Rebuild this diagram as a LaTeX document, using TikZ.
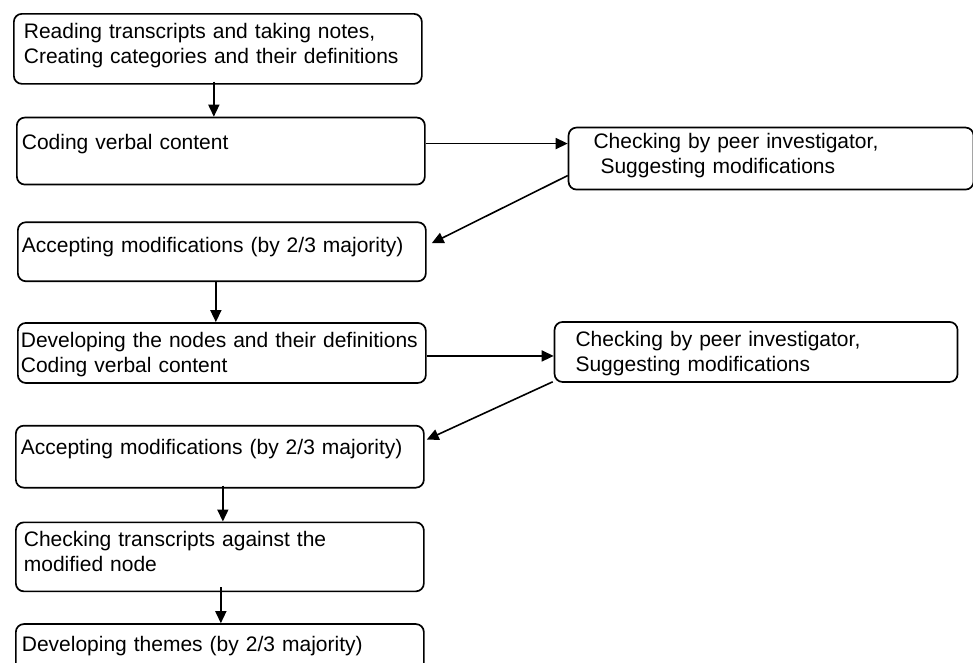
\documentclass[tikz,border=0pt]{standalone}
\usepackage{fontspec}
\setmainfont{Liberation Sans}
\usepackage{tikz}
\usetikzlibrary{positioning,arrows.meta}
\def\BoxFont{\fontsize{21}{25}\selectfont}

\begin{document}
\begin{tikzpicture}[x=1pt,y=-1pt,
		stepbox/.style={draw,line width=1.7pt,rounded corners=8pt,anchor=north west,align=left,inner ysep=0pt,font=\BoxFont},
		flow/.style={line width=1.6pt,-{Triangle[length=12pt,width=11pt]}}]
	\useasboundingbox (0,0) rectangle (973,662);
	% left column
	\node[stepbox,inner xsep=10pt,text width=388pt,text height=25pt,text depth=45pt] (read) at (13,13) {Reading transcripts and taking notes,\\Creating categories and their definitions};
	\node[stepbox,below=32pt of read.south west,anchor=north west,xshift=3pt,inner xsep=5pt,text width=398pt,text height=32pt,text depth=35pt] (code) {Coding verbal content};
	\node[stepbox,below=36pt of code.south west,anchor=north west,xshift=1pt,inner xsep=4pt,text width=400pt,text height=30pt,text depth=29pt] (accA) {Accepting modifications (by 2/3 majority)};
	\node[stepbox,below=40pt of accA.south west,anchor=north west,inner xsep=3pt,text width=402pt,text height=25pt,text depth=35pt] (devnodes) {Developing the nodes and their definitions\\Coding verbal content};
	\node[stepbox,below=41pt of devnodes.south west,anchor=north west,xshift=-2pt,inner xsep=5pt,text width=398pt,text height=29pt,text depth=33pt] (accB) {Accepting modifications (by 2/3 majority)};
	\node[stepbox,below=33pt of accB.south west,anchor=north west,inner xsep=8pt,text width=392pt,text height=24pt,text depth=45pt] (check) {Checking transcripts against the\\modified node};
	\node[stepbox,below=31pt of check.south west,anchor=north west,inner xsep=6pt,text width=396pt,text height=27pt,text depth=48pt] (themes) {Developing themes (by 2/3 majority)};
	% peer checks
	\node[stepbox,right=142pt of code.north east,anchor=north west,yshift=-10pt,inner xsep=25pt,text width=355pt,text height=21pt,text depth=41pt] (peerA) {Checking by peer investigator,\\\mbox{}\ Suggesting modifications};
	\node[stepbox,right=127pt of devnodes.north east,anchor=north west,yshift=1pt,inner xsep=21pt,text width=361pt,text height=25pt,text depth=35pt] (peerB) {Checking by peer investigator,\\Suggesting modifications};
	% connectors
	\draw[flow] ([xshift=-4pt,yshift=3pt]read.south) -- ([xshift=-7pt]code.north);
	\draw[flow] ([yshift=7.5pt]code.east) -- ([yshift=15pt]peerA.west);
	\draw[flow] ([yshift=-17pt]peerA.west) -- ([xshift=5pt,yshift=8.5pt]accA.east);
	\draw[flow] ([xshift=-6pt]accA.south) -- ([xshift=-6pt]devnodes.north);
	\draw[flow] ([yshift=-3pt]devnodes.east) -- ([yshift=-4pt]peerB.west);
	\draw[flow] ([xshift=-1pt,yshift=1pt]peerB.south west) -- ([xshift=2pt,yshift=17pt]accB.east);
	\draw[flow] ([xshift=3pt,yshift=3pt]accB.south) -- ([xshift=3pt]check.north);
	\draw[flow] ([xshift=1pt,yshift=5pt]check.south) -- ([xshift=1pt]themes.north);
\end{tikzpicture}
\end{document}
